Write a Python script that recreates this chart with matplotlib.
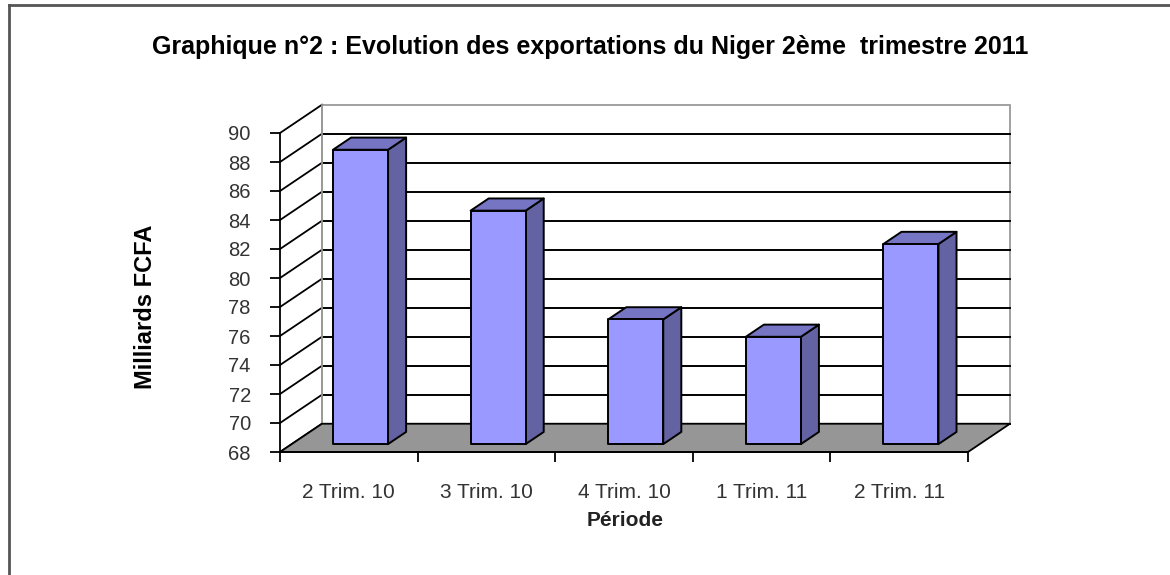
import numpy as np
import matplotlib
matplotlib.use("Agg")
from matplotlib import pyplot as plt
from matplotlib.patches import Polygon
from matplotlib.lines import Line2D

# Data
periodes = ['2 Trim. 10', '3 Trim. 10', '4 Trim. 10', '1 Trim. 11', '2 Trim. 11']
exportations = [88.3, 84.1, 76.6, 75.4, 81.8]
y_ticks = list(range(68, 91, 2))

plt.rcParams['font.family'] = ['Liberation Sans', 'DejaVu Sans']

# 3D oblique offset (depth 1 = back wall), in data units
DX = 0.305
DY = 1.95
VMIN, VMAX = 68, 90
D0, D1 = 0.28, 0.71      # bar front / back depth
BW = 0.4                 # bar width

def proj(x, v, d):
    return (x + d * DX, v + d * DY)

W, H = 1170, 575
fig = plt.figure(figsize=(W / 100, H / 100), dpi=100)

# axes placed so that x=0..5 -> px 280..968 and y=68..90 -> px 452..133
xlim = (-0.6, 5.45)
ylim = (67.0, 92.5)
px_per_x = 137.6
px_per_y = 14.5
left_px = 280 + xlim[0] * px_per_x
right_px = 280 + xlim[1] * px_per_x
bot_px = 452 + (VMIN - ylim[0]) * px_per_y
top_px = 452 - (ylim[1] - VMIN) * px_per_y
ax = fig.add_axes([left_px / W, (H - bot_px) / H,
                   (right_px - left_px) / W, (bot_px - top_px) / H])
ax.set_xlim(*xlim)
ax.set_ylim(*ylim)
ax.patch.set_visible(False)

n = len(periodes)
grid_c = 'black'
wall_c = '#9a9a9a'

# back wall
wall = [proj(0, VMIN, 1), proj(n, VMIN, 1), proj(n, VMAX, 1), proj(0, VMAX, 1)]
ax.add_patch(Polygon(wall, closed=True, facecolor='white', edgecolor=wall_c, lw=1.3, zorder=1))
# gridlines on back wall and left wall
for v in y_ticks:
    x0, y0 = proj(0, v, 1)
    x1, y1 = proj(n, v, 1)
    if v != VMAX:
        ax.plot([x0, x1], [y0, y1], color=grid_c, lw=1.4, zorder=2)
    ax.plot([0, x0], [v, y0], color=grid_c, lw=1.3, zorder=2)
ax.plot([DX, DX], [VMIN + DY, VMAX + DY], color=wall_c, lw=1.3, zorder=2)

# floor
floor = [proj(0, VMIN, 0), proj(n, VMIN, 0), proj(n, VMIN, 1), proj(0, VMIN, 1)]
ax.add_patch(Polygon(floor, closed=True, facecolor='#969696', edgecolor='black', lw=1.3, zorder=3))

# bars
for i, v in enumerate(exportations):
    c = i + 0.5
    xl, xr = c - BW / 2, c + BW / 2
    front = [proj(xl, VMIN, D0), proj(xr, VMIN, D0), proj(xr, v, D0), proj(xl, v, D0)]
    side = [proj(xr, VMIN, D0), proj(xr, VMIN, D1), proj(xr, v, D1), proj(xr, v, D0)]
    top = [proj(xl, v, D0), proj(xr, v, D0), proj(xr, v, D1), proj(xl, v, D1)]
    for pts, col in ((side, '#6363a3'), (top, '#7575c4'), (front, '#9999ff')):
        ax.add_patch(Polygon(pts, closed=True, facecolor=col, edgecolor='black',
                             lw=1.4, joinstyle='round', zorder=4 + i * 0.1))

# axes / ticks
for s in ('top', 'right'):
    ax.spines[s].set_visible(False)
ax.spines['left'].set_position(('data', 0))
ax.spines['left'].set_bounds(VMIN, VMAX)
ax.spines['bottom'].set_position(('data', VMIN))
ax.spines['bottom'].set_bounds(0, n)
for s in ('left', 'bottom'):
    ax.spines[s].set_linewidth(1.3)
    ax.spines[s].set_zorder(5)
ax.set_yticks(y_ticks)
ax.tick_params(axis='y', direction='out', length=7, width=1.3, pad=14,
               labelsize=14.5, labelcolor='#333333')
ax.set_xticks(np.arange(n + 1))
ax.set_xticklabels([])
ax.set_xticks(np.arange(n) + 0.5, minor=True)
ax.set_xticklabels(periodes, minor=True)
ax.tick_params(axis='x', which='major', direction='out', length=7, width=1.3)
ax.tick_params(axis='x', which='minor', length=0, pad=22, labelsize=15, labelcolor='#333333')

# labels
fig.text(590 / W, 1 - 47 / H, "Graphique n°2 : Evolution des exportations du Niger 2ème  trimestre 2011",
         ha='center', va='center', fontsize=18, fontweight='bold')
fig.text(146 / W, 1 - 307 / H, "Milliards FCFA", rotation=90, ha='center', va='center',
         fontsize=17, fontweight='bold')
fig.text(625 / W, 1 - 521 / H, "Période", ha='center', va='center',
         fontsize=15, fontweight='bold', color='#222222')

# chart border
fig.add_artist(Line2D([9 / W, 9 / W], [0, 1 - 5 / H], transform=fig.transFigure,
                      color='#555555', lw=2))
fig.add_artist(Line2D([9 / W, 1], [1 - 5 / H, 1 - 5 / H], transform=fig.transFigure,
                      color='#555555', lw=2))

fig.savefig('out.png', dpi=100)
